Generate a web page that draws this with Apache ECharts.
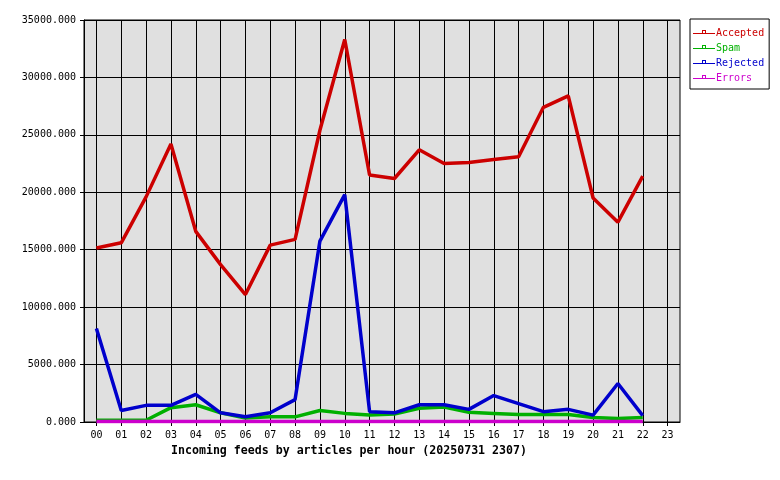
<!DOCTYPE html>
<html>
<head>
<meta charset="utf-8">
<script src="https://cdn.jsdelivr.net/npm/echarts@6/dist/echarts.min.js"></script>
<style>html,body{margin:0;padding:0;background:#fff}#c{width:780px;height:480px}</style>
</head>
<body>
<div id="c"></div>
<script>
var hours = ['00','01','02','03','04','05','06','07','08','09','10','11','12','13','14','15','16','17','18','19','20','21','22','23'];
var seriesNames = ['Accepted','Spam','Rejected','Errors'];
var accepted = [15150,15600,19600,24200,16600,13700,11100,15400,15900,25400,33300,21500,21200,23700,22500,22600,22850,23100,27400,28400,19500,17400,21400];
var spam     = [150,150,150,1250,1500,800,350,450,450,1000,750,600,700,1200,1300,850,750,650,650,650,400,300,400];
var rejected = [8150,1000,1450,1450,2400,800,450,800,1950,15750,19800,900,800,1500,1500,1100,2300,1600,900,1100,600,3350,550];
var errors   = [40,40,40,40,40,40,40,40,40,40,40,40,40,40,40,40,40,40,40,40,40,40,40];
var yTicks = {min: 0, max: 35000, interval: 5000};
var titleText = 'Incoming feeds by articles per hour (20250731 2307)';

var colors = ['#cc0000','#00b000','#0000cc','#cc00cc'];
var mono = 'DejaVu Sans Mono';
var iconPath = 'path://M0,0M22,10M0,5h22v1h-22zM9,2h4v1h-4zM9,2h1v4h-1zM12,2h1v4h-1z';

var chart = echarts.init(document.getElementById('c'), null, {renderer: 'canvas'});
var values = [accepted, spam, rejected, errors];
chart.setOption({
  animation: false,
  color: colors,
  title: {
    text: titleText,
    left: 171, top: 445,
    padding: 0,
    textStyle: {fontFamily: mono, fontSize: 11.6, fontWeight: 'bold', color: '#000'}
  },
  legend: {
    orient: 'vertical',
    left: 690, top: 19,
    padding: [9, 5, 6, 3],
    itemWidth: 22, itemHeight: 10, itemGap: 5,
    borderColor: '#000', borderWidth: 1,
    icon: iconPath,
    itemStyle: {borderWidth: 0},
    textStyle: {fontFamily: mono, fontSize: 10, padding: [0,0,0,-4]},
    data: seriesNames.map(function (n, i) {
      return {name: n, icon: iconPath, textStyle: {color: colors[i]}};
    })
  },
  grid: {
    left: 84, right: 100, top: 20, bottom: 58,
    show: true, backgroundColor: '#e0e0e0', borderColor: '#000', borderWidth: 1
  },
  xAxis: {
    type: 'category',
    data: hours,
    boundaryGap: true,
    axisLine: {lineStyle: {color: '#000', width: 1}},
    axisTick: {show: true, alignWithLabel: true, length: 4, lineStyle: {color: '#000'}},
    splitLine: {show: true, alignWithLabel: true, lineStyle: {color: '#000', width: 1}},
    axisLabel: {color: '#000', fontFamily: mono, fontSize: 10, margin: 8, interval: 0}
  },
  yAxis: {
    type: 'value',
    min: yTicks.min, max: yTicks.max, interval: yTicks.interval,
    axisLine: {show: true, lineStyle: {color: '#000', width: 1}},
    axisTick: {show: true, length: 4, lineStyle: {color: '#000'}},
    splitLine: {show: true, lineStyle: {color: '#000', width: 1}},
    axisLabel: {color: '#000', fontFamily: mono, fontSize: 10, margin: 8,
      formatter: function (v) { return v.toFixed(3); }}
  },
  series: seriesNames.map(function (n, i) {
    return {
      name: n, type: 'line', data: values[i],
      symbol: 'none', showSymbol: false,
      lineStyle: {width: 3.5, color: colors[i]},
      itemStyle: {color: colors[i]}
    };
  })
});
</script>
</body>
</html>
